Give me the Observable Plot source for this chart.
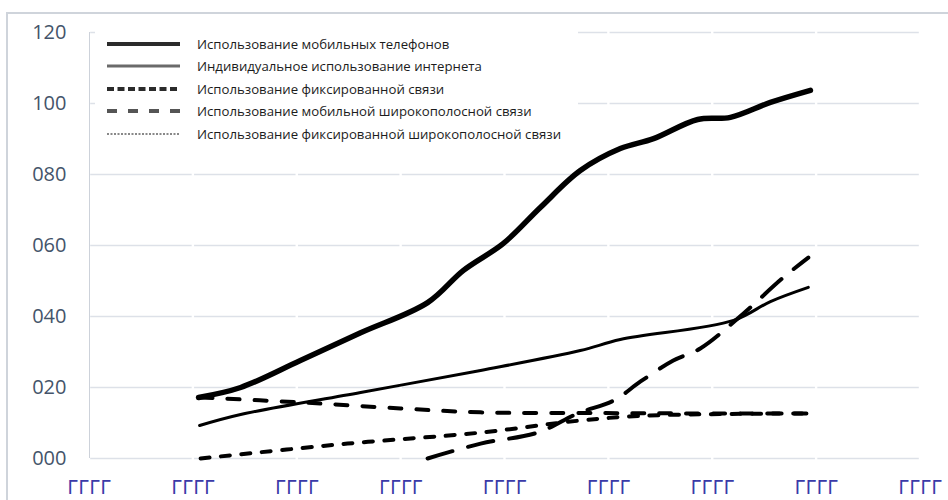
<!DOCTYPE html>
<html><head><meta charset="utf-8">
<script src="https://cdn.jsdelivr.net/npm/d3@7"></script>
<script src="https://cdn.jsdelivr.net/npm/@observablehq/plot@0.6"></script>
<style>
html,body{margin:0;padding:0;background:#fff;overflow:hidden}
#wrap{position:relative;width:948px;height:500px;overflow:hidden}
#chart{position:absolute;left:0;top:0}
#frame{position:absolute;left:6px;top:12px;width:960px;height:520px;border-left:2px solid #cfd4db;border-top:2px solid #cfd4db;z-index:5;pointer-events:none}
#legend{position:absolute;left:95px;top:27px;width:483px;height:122px;background:#fff;font-family:'Open Sans',sans-serif;font-size:13.2px;color:#1c1c1c}
.row{position:absolute;left:0;height:22px;display:flex;align-items:center;white-space:nowrap}
.row svg{margin-left:12px;margin-right:17px;display:block}
</style></head><body>
<div id="wrap"><div id="chart"></div><div id="legend"></div><div id="frame"></div></div>
<script>
// ---- data ----
const seriesNames = [
  "Использование мобильных телефонов",
  "Индивидуальное использование интернета",
  "Использование фиксированной связи",
  "Использование мобильной широкополосной связи",
  "Использование фиксированной широкополосной связи"
];
const xTickYears = [1998, 2000, 2002, 2004, 2006, 2008, 2010, 2012, 2014];
const xTickLabels = ["ГГГГ","ГГГГ","ГГГГ","ГГГГ","ГГГГ","ГГГГ","ГГГГ","ГГГГ","ГГГГ"];
const yTicks = [0, 20, 40, 60, 80, 100, 120];
const yTickLabels = ["000","020","040","060","080","100","120"];

const mobileX = [2000.10, 2000.91, 2002.06, 2003.22, 2004.51, 2005.20, 2005.97, 2006.68, 2007.45, 2008.22, 2008.86, 2009.71, 2010.34, 2011.11, 2011.88];
const mobileY = [17.2, 20.0, 27.6, 35.4, 43.9, 53.0, 60.6, 70.7, 81.1, 87.3, 90.1, 95.5, 96.1, 100.3, 103.7];

const internetX = [2000.12, 2000.91, 2003.22, 2005.53, 2007.45, 2008.22, 2010.40, 2011.11, 2011.84];
const internetY = [9.3, 12.4, 18.6, 24.8, 30.4, 33.5, 38.9, 44.2, 48.2];

const fixedTelX = [2000.14, 2002.06, 2003.99, 2005.53, 2007.84, 2009.76, 2011.84];
const fixedTelY = [17.2, 15.8, 14.1, 13.0, 12.8, 12.7, 12.7];

const mobileBbX = [2004.51, 2005.53, 2006.63, 2007.40, 2008.09, 2008.61, 2009.24, 2009.76, 2010.48, 2011.36, 2011.84];
const mobileBbY = [0, 4.2, 7.3, 12.7, 16.3, 21.7, 27.6, 31.0, 39.4, 51.0, 56.6];

const fixedBbX = [2000.14, 2002.97, 2005.53, 2007.45, 2008.74, 2011.84];
const fixedBbY = [0, 4.2, 7.3, 10.7, 12.1, 12.7];

// ---- styles ----
const lineStyles = [
  {strokeWidth: 5.5, dash: null},
  {strokeWidth: 3, dash: null},
  {strokeWidth: 4, dash: "12,15"},
  {strokeWidth: 4, dash: "26,16"},
  {strokeWidth: 4, dash: "9,11.5"}
];
const legendStyles = [
  {w: 4, dash: null, color: "#2b2b2b"},
  {w: 3, dash: null, color: "#6a6a6a"},
  {w: 4, dash: "7,3.5", color: "#2b2b2b"},
  {w: 4, dash: "10,11", color: "#555"},
  {w: 2, dash: "2,1.5", color: "#888"}
];

const toRows = (xs, ys) => xs.map((x, i) => ({x, y: ys[i]}));
const seriesData = [
  toRows(mobileX, mobileY),
  toRows(internetX, internetY),
  toRows(fixedTelX, fixedTelY),
  toRows(mobileBbX, mobileBbY),
  toRows(fixedBbX, fixedBbY)
];

const gridSegs = [];
for (const y of yTicks) for (let i = 0; i < xTickYears.length - 1; i++)
  gridSegs.push({y, x1: xTickYears[i], x2: xTickYears[i + 1]});

const lineMarks = seriesData.map((d, k) => Plot.line(d, {
  x: "x", y: "y", curve: "catmull-rom", stroke: "#000",
  strokeWidth: lineStyles[k].strokeWidth,
  strokeDasharray: lineStyles[k].dash,
  strokeLinecap: "round", strokeLinejoin: "round"
}));

const chart = Plot.plot({
  width: 948, height: 500,
  marginLeft: 89, marginRight: 28, marginTop: 32, marginBottom: 42,
  style: {background: "transparent", fontFamily: "'Open Sans', sans-serif"},
  x: {domain: [1998, 2014]},
  y: {domain: [0, 120]},
  marks: [
    Plot.ruleY(gridSegs, {y: "y", x1: "x1", x2: "x2", stroke: "#dde1e8", strokeWidth: 1.6, insetLeft: 1.2, insetRight: 1.2}),
    Plot.ruleX([1998], {stroke: "#cdd2da", strokeWidth: 1}),
    Plot.axisY({ticks: yTicks, tickFormat: d => yTickLabels[yTicks.indexOf(d)], tickSize: 0, tickPadding: 23,
      fontSize: 20, color: "#44546a", label: null, fontFamily: "'Open Sans', sans-serif"}),
    Plot.axisX({ticks: xTickYears, tickFormat: d => xTickLabels[xTickYears.indexOf(d)], tickSize: 0, tickPadding: 21,
      fontSize: 20, color: "#3a3aa8", label: null, fontFamily: "'Liberation Sans Narrow', 'DejaVu Sans Condensed', sans-serif"}),
    ...lineMarks
  ]
});
document.getElementById("chart").appendChild(chart);

// legend
const legend = document.getElementById("legend");
seriesNames.forEach((name, i) => {
  const row = document.createElement("div");
  row.className = "row";
  row.style.top = (6 + 22.4 * i) + "px";
  const s = legendStyles[i];
  row.innerHTML = `<svg width="73" height="8"><line x1="0" x2="73" y1="4" y2="4" stroke="${s.color}" stroke-width="${s.w}" ${s.dash ? `stroke-dasharray="${s.dash}"` : ""}/></svg><span>${name}</span>`;
  legend.appendChild(row);
});
</script>
</body></html>
